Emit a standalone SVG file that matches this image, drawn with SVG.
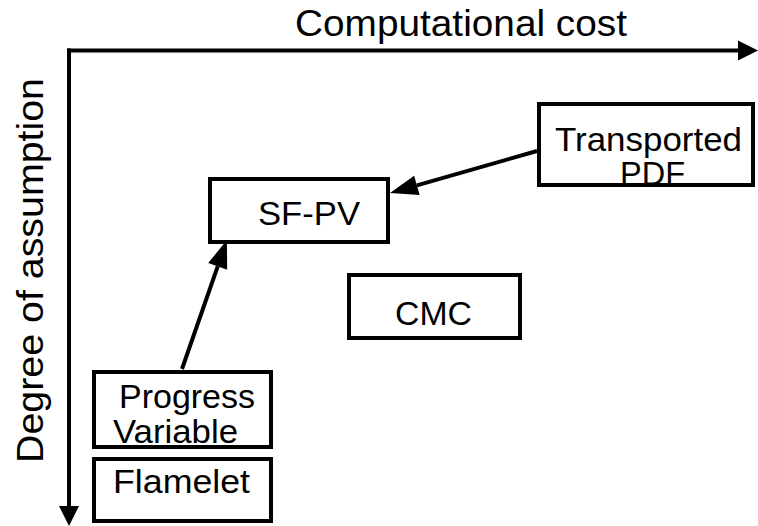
<svg xmlns="http://www.w3.org/2000/svg" width="758" height="526" viewBox="0 0 758 526">
<style>
text{font-family:"Liberation Sans",Arial,sans-serif;fill:#000;}
.lbl{font-size:33px;}
.ax{font-size:37px;}
.box{fill:#fff;stroke:#000;stroke-width:4;}
.ln{stroke:#000;stroke-width:4;fill:none;}
</style>
<defs>
<marker id="ah" markerUnits="userSpaceOnUse" markerWidth="28" markerHeight="20" refX="0" refY="10" orient="auto" overflow="visible">
<path d="M0,0 L28,10 L0,20 z" fill="#000"/>
</marker>
<marker id="axh" markerUnits="userSpaceOnUse" markerWidth="20" markerHeight="20" refX="0" refY="10" orient="auto" overflow="visible">
<path d="M0,0 L20,10 L0,20 z" fill="#000"/>
</marker>
</defs>
<rect width="758" height="526" fill="#fff"/>
<g id="axes">
<path class="ln" d="M67,50.5 L738,50.5" marker-end="url(#axh)"/>
<path class="ln" d="M69,48.5 L69,506" marker-end="url(#axh)"/>
<text class="ax" x="295" y="36" textLength="332" lengthAdjust="spacingAndGlyphs">Computational cost</text>
<text class="ax" transform="translate(43,463) rotate(-90)" textLength="385" lengthAdjust="spacingAndGlyphs">Degree of assumption</text>
</g>
<g id="node-transported-pdf">
<rect class="box" x="539" y="104" width="214" height="81"/>
<text class="lbl" x="555" y="151" textLength="187" lengthAdjust="spacingAndGlyphs">Transported</text>
<text class="lbl" x="620" y="185" textLength="65" lengthAdjust="spacingAndGlyphs">PDF</text>
</g>
<g id="node-sf-pv">
<rect class="box" x="210" y="179" width="178" height="63"/>
<text class="lbl" x="258" y="225" textLength="102" lengthAdjust="spacingAndGlyphs">SF-PV</text>
</g>
<g id="node-cmc">
<rect class="box" x="349" y="275" width="171" height="63"/>
<text class="lbl" x="395" y="325" textLength="77" lengthAdjust="spacingAndGlyphs">CMC</text>
</g>
<g id="node-progress-variable">
<rect class="box" x="94" y="372" width="177" height="75"/>
<text class="lbl" x="119" y="408" textLength="136" lengthAdjust="spacingAndGlyphs">Progress</text>
<text class="lbl" x="113" y="443" textLength="125" lengthAdjust="spacingAndGlyphs">Variable</text>
</g>
<g id="node-flamelet">
<rect class="box" x="94" y="459" width="177" height="62"/>
<text class="lbl" x="113" y="493" textLength="137" lengthAdjust="spacingAndGlyphs">Flamelet</text>
</g>
<g id="connectors">
<path class="ln" d="M537,151 L416.9,185.3" marker-end="url(#ah)"/>
<path class="ln" d="M182,369 L217.7,266.4" marker-end="url(#ah)"/>
</g>
</svg>
